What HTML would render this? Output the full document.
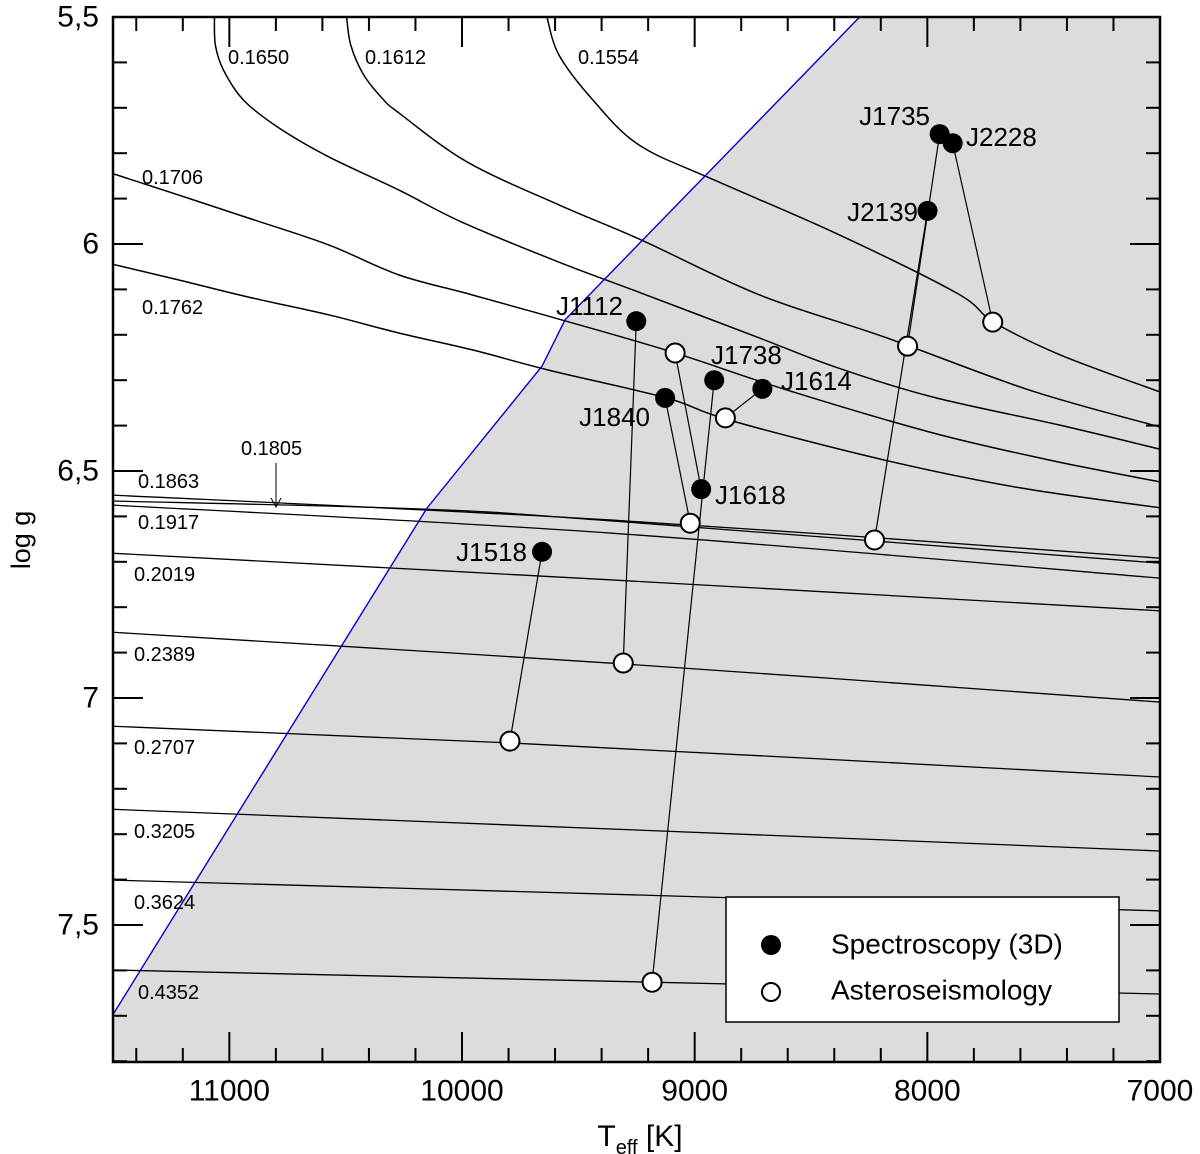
<!DOCTYPE html>
<html><head><meta charset="utf-8"><style>
html,body{margin:0;padding:0;background:#fff;}
svg{display:block;font-family:"Liberation Sans",Arial,sans-serif;}
</style></head><body>
<svg id="chart" width="1200" height="1154" viewBox="0 0 1200 1154"></svg>
<script>
// ---- data ----
const xTicks = [11000, 10000, 9000, 8000, 7000];
const xTickLabels = ["11000", "10000", "9000", "8000", "7000"];
const yTicks = [5.5, 6, 6.5, 7, 7.5];
const yTickLabels = ["5,5", "6", "6,5", "7", "7,5"];
const blueBoundary = [[11507,7.703],[10151,6.582],[9656,6.269],[9557,6.167],[8291,5.50]];
const trackMasses = ["0.1554","0.1612","0.1650","0.1706","0.1762","0.1863","0.1805","0.1917","0.2019","0.2389","0.2707","0.3205","0.3624","0.4352"];
const track1554 = [[9635,5.50],[9583,5.584],[9437,5.683],[9239,5.782],[8916,5.859],[8395,5.976],[7874,6.108],[7715,6.172],[7430,6.244],[7000,6.326]];
const track1612 = [[10496,5.50],[10478,5.562],[10422,5.628],[10336,5.683],[10272,5.711],[9979,5.819],[9583,5.914],[9230,5.991],[8722,6.112],[8184,6.205],[7560,6.322],[7000,6.403]];
const track1650 = [[11064,5.50],[11060,5.562],[11025,5.617],[10939,5.683],[10788,5.744],[10573,5.808],[10272,5.881],[10000,5.952],[9583,6.040],[9230,6.108],[8722,6.207],[8395,6.271],[7977,6.337],[7430,6.399],[7000,6.452]];
const track1706 = [[11507,5.844],[11219,5.892],[10917,5.943],[10573,6.002],[10272,6.068],[9957,6.112],[9497,6.178],[9084,6.240],[8601,6.322],[7977,6.416],[7474,6.476],[7000,6.524]];
const track1762 = [[11507,6.044],[11219,6.079],[10917,6.117],[10573,6.156],[10272,6.196],[9957,6.233],[9626,6.278],[9122,6.339],[8851,6.388],[8184,6.476],[7603,6.537],[7000,6.581]];
const track1863 = [[11507,6.553],[9355,6.608],[7000,6.692]];
const track1805 = [[11507,6.566],[10160,6.584],[9355,6.610],[7000,6.703]];
const track1917 = [[11507,6.575],[9355,6.637],[7000,6.736]];
const track2019 = [[11507,6.681],[9355,6.740],[7000,6.808]];
const track2389 = [[11507,6.855],[9307,6.925],[7000,7.009]];
const track2707 = [[11507,7.062],[9794,7.099],[7000,7.174]];
const track3205 = [[11507,7.245],[9239,7.291],[7000,7.337]];
const track3624 = [[11507,7.401],[9239,7.434],[7000,7.469]];
const track4352 = [[11507,7.599],[9183,7.626],[7000,7.652]];
const starNames = ["J1735","J2228","J2139","J1112","J1738","J1614","J1840","J1618","J1518"];
const specTeff = [7947,7891,7999,9251,8916,8709,9127,8972,9656];
const specLogg = [5.758,5.778,5.927,6.170,6.300,6.319,6.339,6.540,6.678];
const astTeff = [8085,7719,8227,9307,9183,8868,9019,9084,9794];
const astLogg = [6.225,6.172,6.652,6.923,7.626,6.383,6.615,6.240,7.095];

// ---- scales ----
const L=113,R=1160,T=17,B=1062;
const x = t => R - (t-7000)*(R-L)/4500;
const y = g => T + (g-5.5)*454;
const NS="http://www.w3.org/2000/svg";
const svg=document.getElementById('chart');
function mk(tag,attrs,parent){const e=document.createElementNS(NS,tag);for(const k in attrs)e.setAttribute(k,attrs[k]);(parent||svg).appendChild(e);return e;}
function txt(s,xx,yy,size,anchor,parent){const e=mk('text',{x:xx,y:yy,'font-size':size,'text-anchor':anchor||'start','dominant-baseline':'central',fill:'#000'},parent);e.textContent=s;return e;}
function smooth(pts){
  const P=pts.map(q=>[x(q[0]),y(q[1])]);
  let d='M'+P[0][0]+','+P[0][1];
  for(let i=0;i<P.length-1;i++){
    const p0=P[i-1]||P[i],p1=P[i],p2=P[i+1],p3=P[i+2]||P[i+1];
    const c1=[p1[0]+(p2[0]-p0[0])/6,p1[1]+(p2[1]-p0[1])/6];
    const c2=[p2[0]-(p3[0]-p1[0])/6,p2[1]-(p3[1]-p1[1])/6];
    d+=' C'+c1[0]+','+c1[1]+' '+c2[0]+','+c2[1]+' '+p2[0]+','+p2[1];
  }
  return d;
}

mk('defs',{}).innerHTML='<clipPath id="pc"><rect x="113" y="17" width="1047" height="1045"/></clipPath>';
const plot=mk('g',{'clip-path':'url(#pc)'});



let poly=blueBoundary.map(p=>x(p[0])+','+y(p[1])).join(' ');
poly+=' '+R+','+T+' '+R+','+B+' '+L+','+B+' '+L+','+y(blueBoundary[0][1]);
const region=mk('polygon',{points:poly,fill:'#dcdcdc',stroke:'none'},plot);



const tracks=[track1554,track1612,track1650,track1706,track1762,track1863,track1805,track1917,track2019,track2389,track2707,track3205,track3624,track4352];
tracks.forEach((tr,i)=>{
  const p=mk('path',{d:smooth(tr),fill:'none',stroke:'#000','stroke-width':i<5?1.5:1.3},plot);
  
  
});
const bl=mk('polyline',{points:blueBoundary.map(q=>x(q[0])+','+y(q[1])).join(' '),fill:'none',stroke:'#0000cc','stroke-width':1.4},plot);



starNames.forEach((n,i)=>{
  const l=mk('line',{x1:x(specTeff[i]),y1:y(specLogg[i]),x2:x(astTeff[i]),y2:y(astLogg[i]),stroke:'#000','stroke-width':1.2},plot);
  
  
});
starNames.forEach((n,i)=>{
  const c=mk('circle',{cx:x(astTeff[i]),cy:y(astLogg[i]),r:9.5,fill:'#fff',stroke:'#000','stroke-width':2},plot);
  
  
});
starNames.forEach((n,i)=>{
  const c=mk('circle',{cx:x(specTeff[i]),cy:y(specLogg[i]),r:10,fill:'#000'},plot);
  
  
});

const starLabelPos={J1735:[930,116,'end'],J2228:[966,137,'start'],J2139:[918,212,'end'],J1112:[623,306,'end'],J1738:[711,355,'start'],J1614:[781,381,'start'],J1840:[650,417,'end'],J1618:[715,495,'start'],J1518:[527,552,'end']};
starNames.forEach(n=>{const p=starLabelPos[n];const t=txt(n,p[0],p[1],26,p[2]);
  
  });

const trackLabelPos={"0.1650":[228,58],"0.1612":[365,58],"0.1554":[578,58],"0.1706":[142,178],"0.1762":[142,308],"0.1805":[241,449],"0.1863":[138,482],"0.1917":[138,523],"0.2019":[134,575],"0.2389":[134,655],"0.2707":[134,748],"0.3205":[134,832],"0.3624":[134,903],"0.4352":[138,993]};
for(const k in trackLabelPos){const p=trackLabelPos[k];const t=txt(k,p[0],p[1],20,'start');
  
  }
const arr=mk('g',{});


mk('line',{x1:276,y1:463,x2:276,y2:506,stroke:'#000','stroke-width':1},arr);
mk('polyline',{points:'271,498 276,507 281,498',fill:'none',stroke:'#000','stroke-width':1},arr);

const ax=mk('g',{});


for(let t=7000;t<=11400;t+=200){const major=t%1000===0;const len=major?30:14;const xx=x(t);
  mk('line',{x1:xx,y1:B,x2:xx,y2:B-len,stroke:'#000','stroke-width':2},ax);
  mk('line',{x1:xx,y1:T,x2:xx,y2:T+len,stroke:'#000','stroke-width':2},ax);}
for(let k=0;k<=23;k++){const g=5.5+k*0.1;const major=k%5===0;const len=major?30:14;const yy=y(g);
  mk('line',{x1:L,y1:yy,x2:L+len,y2:yy,stroke:'#000','stroke-width':2},ax);
  mk('line',{x1:R,y1:yy,x2:R-len,y2:yy,stroke:'#000','stroke-width':2},ax);}
mk('rect',{x:L,y:T,width:R-L,height:B-T,fill:'none',stroke:'#000','stroke-width':2.5},ax);
xTicks.forEach((t,i)=>{const e=txt(xTickLabels[i],x(t),1091,30,'middle');
  
  });
yTicks.forEach((g,i)=>{const e=txt(yTickLabels[i],99,y(g),30,'end');
  
  });
const xt=mk('text',{x:640,y:1146,'font-size':30,'text-anchor':'middle'});
xt.innerHTML='T<tspan font-size="20" dy="8">eff</tspan><tspan dy="-8"> [K]</tspan>';


const yt=mk('text',{x:0,y:0,'font-size':27,'text-anchor':'middle',transform:'translate(30,540) rotate(-90)'});
yt.textContent='log g';



const lg=mk('g',{});


mk('rect',{x:726,y:897,width:393,height:125,fill:'#fff',stroke:'#000','stroke-width':1.5},lg);
const le1=mk('g',{},lg);


mk('circle',{cx:771,cy:945,r:10,fill:'#000'},le1);
txt('Spectroscopy (3D)',831,944,28,'start',le1);
const le2=mk('g',{},lg);


mk('circle',{cx:771,cy:992,r:9,fill:'#fff',stroke:'#000','stroke-width':2},le2);
txt('Asteroseismology',831,990,28,'start',le2);
</script>
</body></html>
